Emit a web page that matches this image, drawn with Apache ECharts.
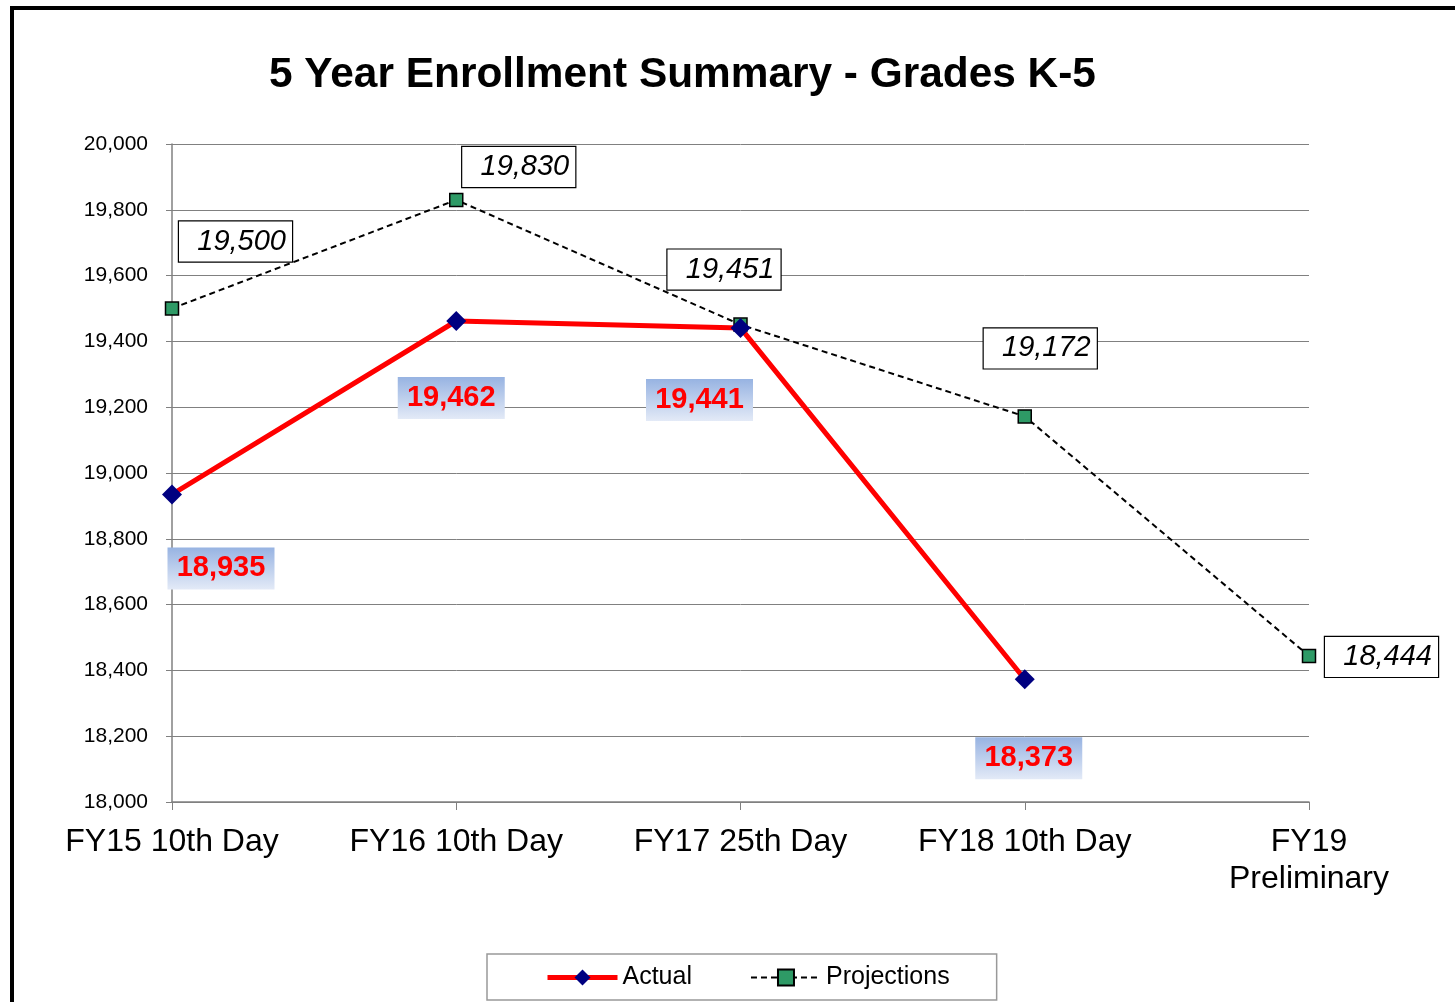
<!DOCTYPE html>
<html>
<head>
<meta charset="utf-8">
<script src="https://cdn.jsdelivr.net/npm/echarts@6/dist/echarts.min.js"></script>
<style>
  html, body { margin: 0; padding: 0; background: #fff; }
  #frame {
    position: absolute; left: 10px; top: 6px; width: 1445px; height: 996px;
    border-left: 4px solid #000; border-top: 4px solid #000;
  }
  #chart { position: absolute; left: 0; top: 0; width: 1455px; height: 1002px; }
</style>
</head>
<body>
<div id="frame"></div>
<div id="chart"></div>
<script>
  // chart data
  var categories = ["FY15 10th Day", "FY16 10th Day", "FY17 25th Day", "FY18 10th Day", "FY19\nPreliminary"];
  var actual = [18935, 19462, 19441, 18373, null];
  var projections = [19500, 19830, 19451, 19172, 18444];
  // label offsets (px) from each point
  var actualOffsets = [[49, 74], [-5, 77], [-41, 72], [4, 79]];
  var projOffsets = [[120, -67], [119, -33], [40, -55], [72, -68], [129, 1]];

  function fmt(v) { return v.toLocaleString("en-US"); }

  var blueGrad = new echarts.graphic.LinearGradient(0, 0, 0, 1, [
    { offset: 0, color: "#97b3e2" },
    { offset: 1, color: "#e3eaf7" }
  ]);

  var actualData = actual.map(function (v, i) {
    if (v == null) return null;
    return {
      value: v,
      label: {
        show: true, position: "inside", offset: actualOffsets[i],
        formatter: fmt(v), color: "#ff0000", fontWeight: "bold", fontSize: 29,
        fontFamily: "Liberation Sans, Arial, sans-serif",
        backgroundColor: blueGrad, width: 107, height: 42, lineHeight: 42,
        align: "center", verticalAlign: "middle"
      }
    };
  });

  var projData = projections.map(function (v, i) {
    return {
      value: v,
      label: {
        show: true, position: "inside", offset: projOffsets[i],
        formatter: fmt(v), color: "#000", fontStyle: "italic", fontSize: 29,
        fontFamily: "Liberation Sans, Arial, sans-serif",
        backgroundColor: "#fff", borderColor: "#000", borderWidth: 1.2,
        width: 107, height: 40, lineHeight: 40, align: "right", padding: [0, 6, 0, 0],
        verticalAlign: "middle"
      }
    };
  });

  var myChart = echarts.init(document.getElementById("chart"));
  var option = {
    animation: false,
    backgroundColor: "transparent",
    textStyle: { fontFamily: "Liberation Sans, Arial, sans-serif" },
    title: {
      text: "5 Year Enrollment Summary - Grades K-5",
      left: 264, top: 49,
      textStyle: { fontSize: 42.4, fontWeight: "bold", color: "#000" }
    },
    grid: { left: 172, right: 146, top: 144, bottom: 200 },
    legend: {
      bottom: 2, left: 487,
      padding: [11, 47, 10, 58],
      borderColor: "#999", borderWidth: 1.5,
      itemWidth: 70, itemHeight: 20, itemGap: 58,
      textStyle: { fontSize: 25, color: "#000" },
      data: [
        { name: "Actual", lineStyle: { width: 5 } },
        { name: "Projections", lineStyle: { width: 2 } }
      ]
    },
    xAxis: {
      type: "category",
      boundaryGap: false,
      data: categories,
      axisLine: { lineStyle: { color: "#808080", width: 1.5 } },
      axisTick: { show: true, length: 8, lineStyle: { color: "#808080" } },
      axisLabel: { fontSize: 32, color: "#000", margin: 22, lineHeight: 37, interval: 0 },
      splitLine: { show: false }
    },
    yAxis: {
      type: "value",
      min: 18000, max: 20000, interval: 200,
      axisLine: { show: true, lineStyle: { color: "#808080", width: 1.5 } },
      axisTick: { show: true, length: 6, lineStyle: { color: "#808080" } },
      axisLabel: {
        fontSize: 21, color: "#000", margin: 24,
        formatter: function (v) { return fmt(v); }
      },
      splitLine: { lineStyle: { color: "#808080", width: 1 } }
    },
    series: [
      {
        name: "Actual",
        type: "line",
        data: actualData,
        symbol: "diamond",
        symbolSize: 20,
        itemStyle: { color: "#000080" },
        lineStyle: { color: "#ff0000", width: 5 },
        z: 3
      },
      {
        name: "Projections",
        type: "line",
        data: projData,
        symbol: "rect",
        symbolSize: 13,
        itemStyle: { color: "#2e9a66", borderColor: "#000", borderWidth: 1.5 },
        lineStyle: { color: "#000", width: 2, type: [6, 4] },
        z: 2
      }
    ]
  };
  myChart.setOption(option);
</script>
</body>
</html>
